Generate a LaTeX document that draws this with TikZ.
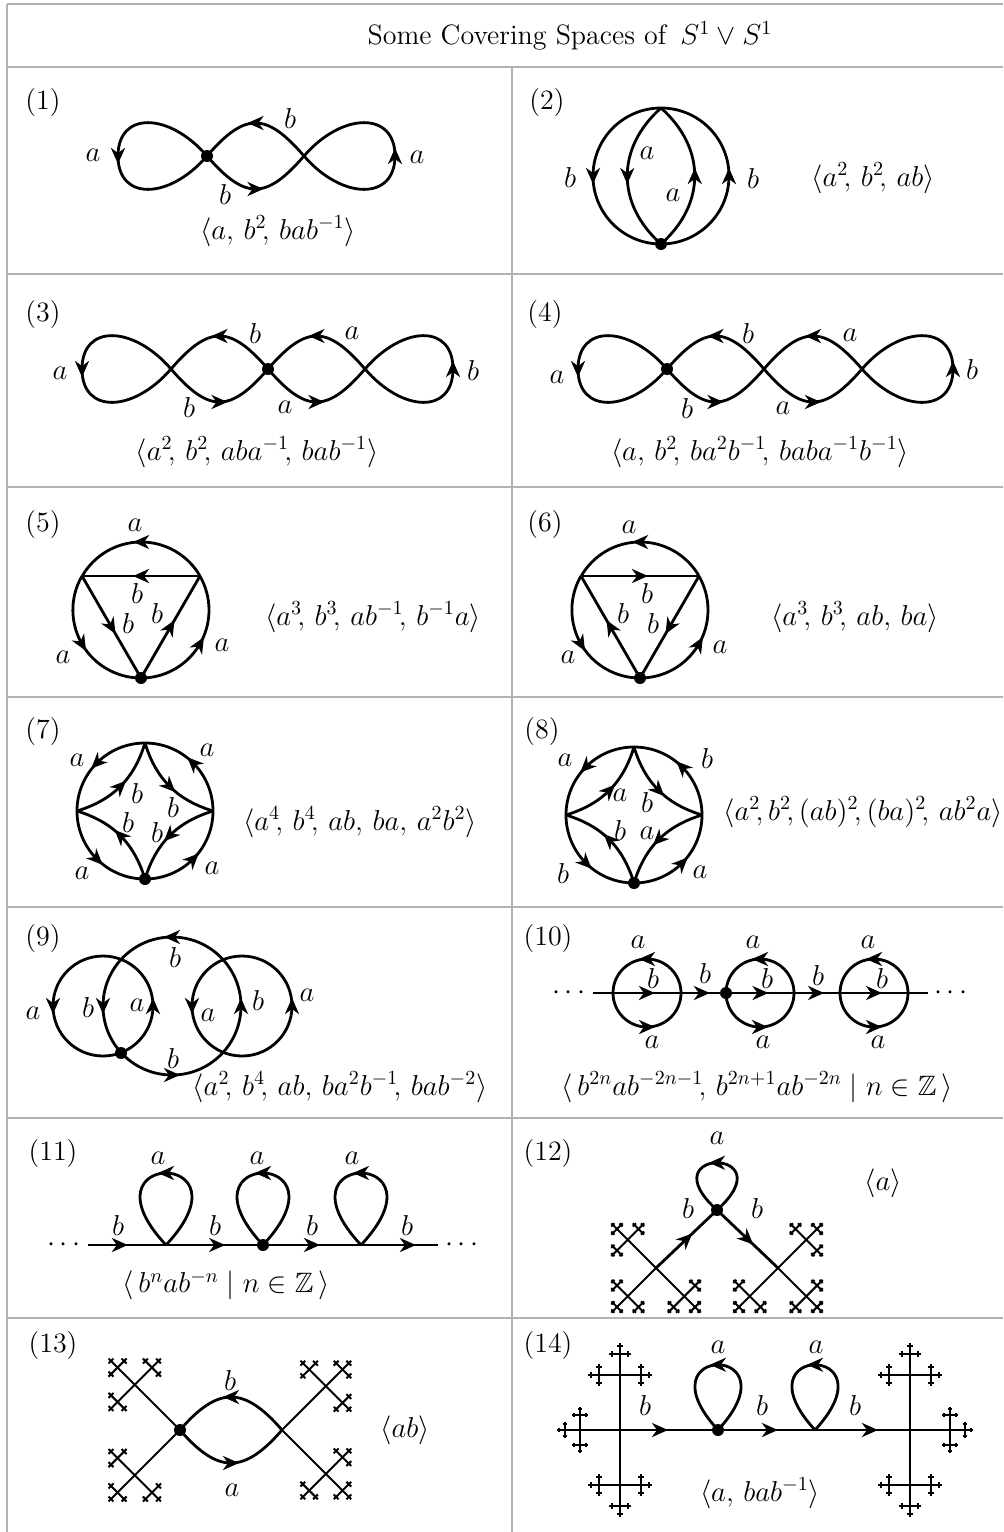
\documentclass[tikz,border=0pt]{standalone}
\usepackage{amssymb}
\usetikzlibrary{arrows.meta,decorations.markings}

\tikzset{
  frame/.style={draw=black!30, line width=1.4pt},
  edge/.style={line width=1.4pt},
  tree/.style={line width=1pt},
  vtx/.style={circle, fill=black, inner sep=0pt, minimum size=6pt},
  lbl/.style={inner sep=1pt},
  arr/.style={postaction={decorate, decoration={markings,
      mark=at position #1 with {\pgftransformxshift{4pt}%
        \arrow{Stealth[length=8pt,width=7pt,inset=2.5pt]}}}}},
  arr/.default=0.5
}

% piece of the tree of the free group: x, y, angle, length, depth
\def\tratio{0.38}
\newcommand\cayley[5]{%
  \ifnum#5>0
    \pgfmathsetmacro\sx{#1}\pgfmathsetmacro\sy{#2}%
    \pgfmathsetmacro\ex{\sx+#4*cos(#3)}%
    \pgfmathsetmacro\ey{\sy-#4*sin(#3)}%
    \draw[tree] (\sx,\sy) -- (\ex,\ey);
    \pgfmathsetmacro\hl{#4*\tratio}%
    \pgfmathtruncatemacro\dd{#5-1}%
    {\cayley{\ex}{\ey}{#3}{\hl}{\dd}}%
    {\cayley{\ex}{\ey}{#3+90}{\hl}{\dd}}%
    {\cayley{\ex}{\ey}{#3-90}{\hl}{\dd}}%
  \fi}

\begin{document}
\begin{tikzpicture}[x=0.5pt, y=-0.5pt, edge,
    every node/.style={font=\fontsize{14}{16}\selectfont}]
\useasboundingbox (0,0) rectangle (1003,1532);

% table
\draw[frame] (7,4) -- (1003,4);
\draw[frame] (7,4) -- (7,1532);
\draw[frame] (7,67) -- (1003,67);
\draw[frame] (512,67) -- (512,1532);
\foreach \yy in {274,487,697,907,1118,1318}
  \draw[frame] (7,\yy) -- (1003,\yy);
\node (title) at (570,36) {Some Covering Spaces of\enspace $S^1\vee S^1$};

% (1)
\node (n1) at (43,103) {(1)};
\coordinate (c1l) at (118,156);
\coordinate (c1v) at (207,156);
\coordinate (c1x) at (304,156);
\coordinate (c1r) at (395,156);
\draw[arr] (c1v) .. controls +(-38,-44) and +(0,-45) .. (c1l) .. controls +(0,45) and +(-38,44) .. (c1v);
\draw[arr] (c1x) .. controls +(-38,-44) and +(38,-44) .. (c1v);
\draw[arr] (c1v) .. controls +(38,44) and +(-38,44) .. (c1x);
\draw[arr] (c1x) .. controls +(38,44) and +(0,45) .. (c1r) .. controls +(0,-45) and +(38,-44) .. (c1x);
\node[vtx] (d1) at (c1v) {};
\node[lbl] (l1a) at (93,155) {$a$};
\node[lbl] (l1b) at (290,118) {$b$};
\node[lbl] (l1c) at (225,194) {$b$};
\node[lbl] (l1d) at (417,157) {$a$};
\node (p1) at (278,231) {$\langle a,\, b^2\!,\, bab^{-1}\rangle$};

% (2)
\node (n2) at (547,103) {(2)};
\coordinate (c2t) at (661,108);
\coordinate (c2v) at (661,244);
\draw[arr] (c2t) arc[start angle=-90, end angle=-270, radius=68];
\draw[arr] (c2v) arc[start angle=-270, end angle=-450, radius=68];
\draw[arr] (c2t) .. controls +(-45,40) and +(-45,-40) .. (c2v);
\draw[arr] (c2v) .. controls +(45,-40) and +(45,40) .. (c2t);
\node[vtx] (d2) at (c2v) {};
\node[lbl] (l2a) at (570,177) {$b$};
\node[lbl] (l2b) at (753,178) {$b$};
\node[lbl] (l2c) at (647,153) {$a$};
\node[lbl] (l2d) at (673,195) {$a$};
\node (p2) at (873,178) {$\langle a^2\!,\, b^2\!,\, ab\rangle$};

% (3)
\node (n3) at (43,315) {(3)};
\coordinate (c3l) at (82,369);
\coordinate (c3x) at (171,369);
\coordinate (c3v) at (268,369);
\coordinate (c3y) at (365,369);
\coordinate (c3r) at (453,369);
\draw[arr] (c3x) .. controls +(-38,-44) and +(0,-45) .. (c3l) .. controls +(0,45) and +(-38,44) .. (c3x);
\draw[arr] (c3v) .. controls +(-38,-44) and +(38,-44) .. (c3x);
\draw[arr] (c3x) .. controls +(38,44) and +(-38,44) .. (c3v);
\draw[arr] (c3y) .. controls +(-38,-44) and +(38,-44) .. (c3v);
\draw[arr] (c3v) .. controls +(38,44) and +(-38,44) .. (c3y);
\draw[arr] (c3y) .. controls +(38,44) and +(0,45) .. (c3r) .. controls +(0,-45) and +(38,-44) .. (c3y);
\node[vtx] (d3) at (c3v) {};
\node[lbl] (l3a) at (60,373) {$a$};
\node[lbl] (l3b) at (255,333) {$b$};
\node[lbl] (l3c) at (189,407) {$b$};
\node[lbl] (l3d) at (352,333) {$a$};
\node[lbl] (l3e) at (285,407) {$a$};
\node[lbl] (l3f) at (473,370) {$b$};
\node (p3) at (257,452) {$\langle a^2\!,\, b^2\!,\, aba^{-1}\!,\, bab^{-1}\rangle$};

% (4)
\node (n4) at (545,315) {(4)};
\coordinate (c4l) at (578,369);
\coordinate (c4v) at (667,369);
\coordinate (c4x) at (764,369);
\coordinate (c4y) at (862,369);
\coordinate (c4r) at (953,369);
\draw[arr] (c4v) .. controls +(-38,-44) and +(0,-45) .. (c4l) .. controls +(0,45) and +(-38,44) .. (c4v);
\draw[arr] (c4x) .. controls +(-38,-44) and +(38,-44) .. (c4v);
\draw[arr] (c4v) .. controls +(38,44) and +(-38,44) .. (c4x);
\draw[arr] (c4y) .. controls +(-38,-44) and +(38,-44) .. (c4x);
\draw[arr] (c4x) .. controls +(38,44) and +(-38,44) .. (c4y);
\draw[arr] (c4y) .. controls +(38,44) and +(0,45) .. (c4r) .. controls +(0,-45) and +(38,-44) .. (c4y);
\node[vtx] (d4) at (c4v) {};
\node[lbl] (l4a) at (557,377) {$a$};
\node[lbl] (l4b) at (748,333) {$b$};
\node[lbl] (l4c) at (687,408) {$b$};
\node[lbl] (l4d) at (850,335) {$a$};
\node[lbl] (l4e) at (783,408) {$a$};
\node[lbl] (l4f) at (972,369) {$b$};
\node (p4) at (760,452) {$\langle a,\, b^2\!,\, ba^2b^{-1}\!,\, baba^{-1}b^{-1}\rangle$};

% (5)
\node (n5) at (43,525) {(5)};
\coordinate (c5p) at (82,576);
\coordinate (c5q) at (200,576);
\coordinate (c5v) at (141,678);
\draw[arr] (c5q) arc[start angle=-30, end angle=-150, radius=68];
\draw[arr] (c5p) arc[start angle=-150, end angle=-270, radius=68];
\draw[arr] (c5v) arc[start angle=-270, end angle=-390, radius=68];
\draw[arr] (c5q) -- (c5p);
\draw[arr] (c5p) -- (c5v);
\draw[arr] (c5v) -- (c5q);
\node[vtx] (d5) at (c5v) {};
\node[lbl] (l5a) at (135,525) {$a$};
\node[lbl] (l5b) at (137,593) {$b$};
\node[lbl] (l5c) at (128,623) {$b$};
\node[lbl] (l5d) at (157,613) {$b$};
\node[lbl] (l5e) at (63,657) {$a$};
\node[lbl] (l5f) at (222,645) {$a$};
\node (p5) at (373,617) {$\langle a^3\!,\, b^3\!,\, ab^{-1}\!,\, b^{-1}a\rangle$};

% (6)
\node (n6) at (545,525) {(6)};
\coordinate (c6p) at (581,576);
\coordinate (c6q) at (699,576);
\coordinate (c6v) at (640,678);
\draw[arr] (c6q) arc[start angle=-30, end angle=-150, radius=68];
\draw[arr] (c6p) arc[start angle=-150, end angle=-270, radius=68];
\draw[arr] (c6v) arc[start angle=-270, end angle=-390, radius=68];
\draw[arr] (c6p) -- (c6q);
\draw[arr] (c6v) -- (c6p);
\draw[arr] (c6q) -- (c6v);
\node[vtx] (d6) at (c6v) {};
\node[lbl] (l6a) at (629,527) {$a$};
\node[lbl] (l6b) at (647,593) {$b$};
\node[lbl] (l6c) at (623,613) {$b$};
\node[lbl] (l6d) at (653,623) {$b$};
\node[lbl] (l6e) at (568,657) {$a$};
\node[lbl] (l6f) at (720,647) {$a$};
\node (p6) at (855,617) {$\langle a^3\!,\, b^3\!,\, ab,\, ba\rangle$};

% (7)
\node (n7) at (43,732) {(7)};
\coordinate (c7t) at (145,743);
\coordinate (c7l) at (77,811);
\coordinate (c7r) at (213,811);
\coordinate (c7v) at (145,879);
\draw[arr] (c7t) arc[start angle=-90, end angle=-180, radius=68];
\draw[arr] (c7l) arc[start angle=-180, end angle=-270, radius=68];
\draw[arr] (c7v) arc[start angle=-270, end angle=-360, radius=68];
\draw[arr] (c7r) arc[start angle=0, end angle=-90, radius=68];
\draw[arr] (c7l) to[bend right=28] (c7t);
\draw[arr] (c7t) to[bend right=28] (c7r);
\draw[arr] (c7r) to[bend right=28] (c7v);
\draw[arr] (c7v) to[bend right=28] (c7l);
\node[vtx] (d7) at (c7v) {};
\node[lbl] (l7a) at (77,760) {$a$};
\node[lbl] (l7b) at (207,750) {$a$};
\node[lbl] (l7c) at (82,873) {$a$};
\node[lbl] (l7d) at (212,868) {$a$};
\node[lbl] (l7e) at (137,793) {$b$};
\node[lbl] (l7f) at (173,807) {$b$};
\node[lbl] (l7g) at (128,822) {$b$};
\node[lbl] (l7h) at (157,832) {$b$};
\node (p7) at (360,822) {$\langle a^4\!,\, b^4\!,\, ab,\, ba,\, a^2b^2\rangle$};

% (8)
\node (n8) at (542,732) {(8)};
\coordinate (c8t) at (634,747);
\coordinate (c8l) at (566,815);
\coordinate (c8r) at (702,815);
\coordinate (c8v) at (634,883);
\draw[arr] (c8t) arc[start angle=-90, end angle=-180, radius=68];
\draw[arr] (c8l) arc[start angle=-180, end angle=-270, radius=68];
\draw[arr] (c8v) arc[start angle=-270, end angle=-360, radius=68];
\draw[arr] (c8r) arc[start angle=0, end angle=-90, radius=68];
\draw[arr] (c8l) to[bend right=28] (c8t);
\draw[arr] (c8t) to[bend right=28] (c8r);
\draw[arr] (c8r) to[bend right=28] (c8v);
\draw[arr] (c8v) to[bend right=28] (c8l);
\node[vtx] (d8) at (c8v) {};
\node[lbl] (l8a) at (565,760) {$a$};
\node[lbl] (l8b) at (707,758) {$b$};
\node[lbl] (l8c) at (563,873) {$b$};
\node[lbl] (l8d) at (700,872) {$a$};
\node[lbl] (l8e) at (620,795) {$a$};
\node[lbl] (l8f) at (647,802) {$b$};
\node[lbl] (l8g) at (620,830) {$b$};
\node[lbl] (l8h) at (647,833) {$a$};
\node (p8) at (863,812) {$\langle a^2\!,b^2\!,(ab)^2\!,(ba)^2\!,\, ab^2a\rangle$};

% (9)
\node (n9) at (43,938) {(9)};
\coordinate (c9a) at (103,1056);
\coordinate (c9b) at (123.2,1054.8);
\coordinate (c9c) at (242,1056);
\draw[arr=0.25, arr=0.75] (c9a) arc[start angle=-270, end angle=-630, radius=50];
\draw[arr=0.125, arr=0.375, arr=0.625, arr=0.875] (c9b) arc[start angle=-225, end angle=-585, radius=69];
\draw[arr=0.25, arr=0.75] (c9c) arc[start angle=-270, end angle=-630, radius=50];
\node[vtx] (d9) at (121,1053) {};
\node[lbl] (l9a) at (33,1013) {$a$};
\node[lbl] (l9b) at (88,1007) {$b$};
\node[lbl] (l9c) at (137,1005) {$a$};
\node[lbl] (l9d) at (208,1015) {$a$};
\node[lbl] (l9e) at (258,1000) {$b$};
\node[lbl] (l9f) at (307,995) {$a$};
\node[lbl] (l9g) at (175,957) {$b$};
\node[lbl] (l9h) at (173,1058) {$b$};
\node (p9) at (340,1087) {$\langle a^2\!,\, b^4\!,\, ab,\, ba^2b^{-1}\!,\, bab^{-2}\rangle$};

% (10)
\node (n10) at (548,938) {(10)};
\coordinate (c10s) at (593,993);
\coordinate (c10e) at (928,993);
\draw[arr=0.161, arr=0.325, arr=0.5, arr=0.666, arr=0.839] (c10s) -- (c10e);
\foreach \cx in {647,760,874}
  \draw[arr=0.25, arr=0.75] (\cx+34,993) arc[start angle=0, end angle=-360, radius=34];
\node[vtx] (d10) at (726,993) {};
\node (e10a) at (569,993) {$\cdots$};
\node (e10b) at (951,993) {$\cdots$};
\node[lbl] (l10a) at (638,942) {$a$};
\node[lbl] (l10b) at (753,942) {$a$};
\node[lbl] (l10c) at (868,942) {$a$};
\node[lbl] (l10d) at (652,1042) {$a$};
\node[lbl] (l10e) at (763,1042) {$a$};
\node[lbl] (l10f) at (878,1042) {$a$};
\node[lbl] (l10g) at (653,978) {$b$};
\node[lbl] (l10h) at (767,978) {$b$};
\node[lbl] (l10i) at (882,978) {$b$};
\node[lbl] (l10j) at (705,973) {$b$};
\node[lbl] (l10k) at (818,975) {$b$};
\node (p10) at (757,1087) {$\langle\, b^{2n}ab^{-2n-1}\!,\, b^{2n+1}ab^{-2n}\mid n\in\mathbb{Z}\,\rangle$};

% (11)
\node (n11) at (53,1153) {(11)};
\coordinate (c11s) at (88,1245);
\coordinate (c11e) at (438,1245);
\draw[arr=0.091, arr=0.369, arr=0.64, arr=0.914] (c11s) -- (c11e);
\foreach \cx in {166,263,361}
  \draw[arr] (\cx,1245) .. controls +(90,-96) and +(-90,-96) .. (\cx,1245);
\node[vtx] (d11) at (263,1245) {};
\node (e11a) at (64,1245) {$\cdots$};
\node (e11b) at (462,1245) {$\cdots$};
\node[lbl] (l11a) at (158,1158) {$a$};
\node[lbl] (l11b) at (257,1158) {$a$};
\node[lbl] (l11c) at (352,1158) {$a$};
\node[lbl] (l11d) at (118,1225) {$b$};
\node[lbl] (l11e) at (215,1225) {$b$};
\node[lbl] (l11f) at (312,1225) {$b$};
\node[lbl] (l11g) at (407,1225) {$b$};
\node (p11) at (226,1285) {$\langle\, b^nab^{-n}\mid n\in\mathbb{Z}\,\rangle$};

% (12)
\node (n12) at (548,1153) {(12)};
\coordinate (c12v) at (717,1210);
\coordinate (c12p) at (656,1268);
\coordinate (c12q) at (778,1268);
\draw[arr] (c12v) .. controls +(70,-63) and +(-70,-63) .. (c12v);
\draw[arr] (c12p) -- (c12v);
\draw[arr] (c12v) -- (c12q);
\cayley{656}{1268}{225}{40}{4}
\cayley{656}{1268}{135}{40}{4}
\cayley{656}{1268}{315}{40}{4}
\cayley{778}{1268}{315}{40}{4}
\cayley{778}{1268}{45}{40}{4}
\cayley{778}{1268}{225}{40}{4}
\node[vtx] (d12) at (c12v) {};
\node[lbl] (l12a) at (717,1138) {$a$};
\node[lbl] (l12b) at (688,1208) {$b$};
\node[lbl] (l12c) at (757,1208) {$b$};
\node (p12) at (883,1183) {$\langle a\rangle$};

% (13)
\node (n13) at (53,1345) {(13)};
\coordinate (c13v) at (180,1430);
\coordinate (c13x) at (282,1430);
\draw[arr] (c13x) .. controls +(-38,-44) and +(38,-44) .. (c13v);
\draw[arr] (c13v) .. controls +(38,44) and +(-38,44) .. (c13x);
\cayley{180}{1430}{135}{64}{4}
\cayley{180}{1430}{225}{64}{4}
\cayley{282}{1430}{45}{62}{4}
\cayley{282}{1430}{315}{62}{4}
\node[vtx] (d13) at (c13v) {};
\node[lbl] (l13a) at (230,1380) {$b$};
\node[lbl] (l13b) at (232,1490) {$a$};
\node (p13) at (405,1430) {$\langle ab\rangle$};

% (14)
\node (n14) at (548,1345) {(14)};
\coordinate (c14s) at (620,1430);
\coordinate (c14e) at (910,1430);
\draw[arr=0.138, arr=0.517, arr=0.862] (c14s) -- (c14e);
\foreach \cx in {718,815}
  \draw[arr] (\cx,1430) .. controls +(80,-87) and +(-80,-87) .. (\cx,1430);
\cayley{620}{1430}{90}{55}{4}
\cayley{620}{1430}{270}{55}{4}
\cayley{620}{1430}{180}{40}{4}
\cayley{910}{1430}{90}{55}{4}
\cayley{910}{1430}{270}{55}{4}
\cayley{910}{1430}{0}{40}{4}
\node[vtx] (d14) at (718,1430) {};
\node[lbl] (l14a) at (718,1347) {$a$};
\node[lbl] (l14b) at (816,1347) {$a$};
\node[lbl] (l14c) at (645,1405) {$b$};
\node[lbl] (l14d) at (762,1405) {$b$};
\node[lbl] (l14e) at (855,1405) {$b$};
\node (p14) at (760,1493) {$\langle a,\, bab^{-1}\rangle$};
\end{tikzpicture}
\end{document}
